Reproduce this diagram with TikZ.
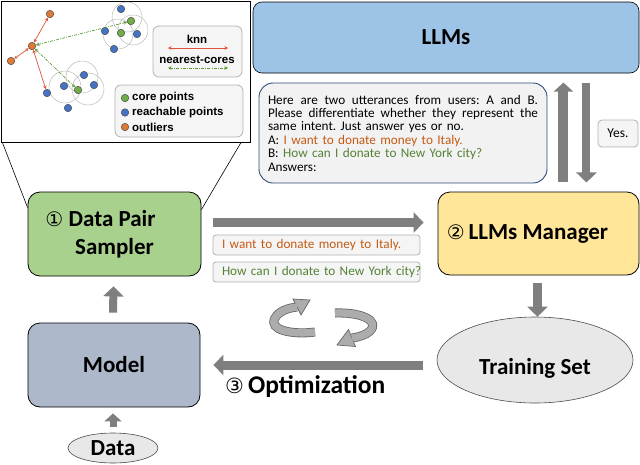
\documentclass[tikz,border=0pt]{standalone}
\usepackage{fontspec}
\setmainfont{Carlito}
\newfontfamily\dejavu{DejaVu Sans}
\newfontfamily\arialf{Liberation Sans}
\usetikzlibrary{arrows.meta,calc,shapes.geometric}
\definecolor{llmblue}{HTML}{9DC3E6}
\definecolor{smpgreen}{HTML}{A9D18E}
\definecolor{mgryellow}{HTML}{FFE699}
\definecolor{modelblue}{HTML}{ADB9CA}
\definecolor{arrowgray}{HTML}{7F7F7F}
\definecolor{promptblue}{HTML}{2E4A7A}
\definecolor{txtorange}{HTML}{C55A11}
\definecolor{txtgreen}{HTML}{548235}
\definecolor{dotorange}{HTML}{DD7A35}
\definecolor{dotblue}{HTML}{4472C4}
\definecolor{dotgreen}{HTML}{70AD47}
\definecolor{knnred}{HTML}{E0533A}
\definecolor{ncgreen}{HTML}{5E9C3A}
\newcommand{\cnum}[2]{{\dejavu\mdseries\fontsize{#2}{#2}\selectfont #1}}
\newcommand{\spreadline}[1]{\leavevmode\hbox to 270pt{\spaceskip=0.25em plus 1fil minus 0.08em\relax #1}}
\frenchspacing
\begin{document}
\begin{tikzpicture}[x=1pt,y=-1pt,
  box/.style={draw=black, line width=0.8pt, rounded corners=12pt, inner sep=0pt},
  bigtext/.style={font=\bfseries\fontsize{23}{28}\selectfont},
  bigarrow/.style={draw=arrowgray, line width=9pt, -{Triangle[length=10pt,width=20pt]}},
  smallarrow/.style={draw=arrowgray, line width=7pt, -{Triangle[length=8pt,width=17pt]}},
  softbox/.style={draw=gray!60, line width=0.8pt, fill=gray!8, inner sep=0pt},
  dot/.style={circle, draw=black!70, line width=0.5pt, minimum size=7.5pt, inner sep=0pt},
  zone/.style={draw=gray!55, line width=0.5pt},
  knnarrow/.style={draw=knnred, line width=0.7pt, {Stealth[length=3.5pt,width=3.5pt]}-{Stealth[length=3.5pt,width=3.5pt]}},
  ncarrow/.style={draw=ncgreen, line width=0.7pt, dash pattern=on 3pt off 1.2pt on 0.8pt off 1.2pt, {Stealth[length=3.5pt,width=3.5pt]}-{Stealth[length=3.5pt,width=3.5pt]}},
  lgtext/.style={font=\arialf\bfseries\fontsize{11.5}{12}\selectfont, inner sep=0pt},
  smalltext/.style={font=\fontsize{13.2}{14}\selectfont},
  ribbonout/.style={draw=black!60, line width=9pt},
  ribbonin/.style={draw=gray!65, line width=7.4pt},
  ribbonhead/.style={fill=gray!65, draw=black!60, line width=0.7pt}
]
\useasboundingbox (0,0) rectangle (640,464);

% ---------- inset ----------
\node[draw, line width=0.8pt, minimum width=249.5pt, minimum height=141.5pt, anchor=north west, inner sep=0pt] (inset) at (0.5,0.5) {};
% reachability circles
\draw[zone] (127,17) circle[radius=15];
\draw[zone] (133,30) circle[radius=15];
\draw[zone] (118,34) circle[radius=15];
\draw[zone] (65,87) circle[radius=16];
\draw[zone] (82,77) circle[radius=16];
\draw[zone] (88,89) circle[radius=16];
% points
\node[dot, fill=dotorange] (o1) at (32,46) {};
\node[dot, fill=dotorange] (o2) at (50,14) {};
\node[dot, fill=dotorange] (o3) at (11,61) {};
\node[dot, fill=dotblue] (b1) at (121,9) {};
\node[dot, fill=dotblue] (b2) at (105,31) {};
\node[dot, fill=dotblue] (b3) at (114,49) {};
\node[dot, fill=dotblue] (b4) at (137,34) {};
\node[dot, fill=dotgreen] (g1) at (131,21) {};
\node[dot, fill=dotgreen] (g2) at (121,33) {};
\node[dot, fill=dotblue] (b5) at (47,93) {};
\node[dot, fill=dotblue] (b6) at (64,86) {};
\node[dot, fill=dotblue] (b7) at (84,75) {};
\node[dot, fill=dotblue] (b8) at (94,85) {};
\node[dot, fill=dotblue] (b9) at (68,108) {};
\node[dot, fill=dotgreen] (g3) at (78,90) {};
\draw[knnarrow] (o1) -- (o2);
\draw[knnarrow] (o1) -- (o3);
\draw[knnarrow] (o1) -- (b5);
\draw[ncarrow] (o1) -- (g1);
\draw[ncarrow] (o1) -- (g3);
% legends
\node[softbox, rounded corners=6pt, minimum width=89pt, minimum height=51pt] (lg1) at (197.5,51.5) {};
\node[lgtext] (knn) at (197,39) {knn};
\coordinate (k1) at (168,48);
\coordinate (k2) at (228,48);
\draw[knnarrow] (k1) -- (k2);
\node[lgtext] (nct) at (197,60) {nearest-cores};
\coordinate (n1) at (168,68);
\coordinate (n2) at (228,68);
\draw[ncarrow] (n1) -- (n2);
\node[softbox, rounded corners=6pt, minimum width=128pt, minimum height=52pt] (lg2) at (179,111) {};
\node[dot, fill=dotgreen] (l1) at (125,98) {};
\node[dot, fill=dotblue] (l2) at (125,112.5) {};
\node[dot, fill=dotorange] (l3) at (125,127) {};
\node[lgtext, anchor=west] (l1t) at (132,98) {core points};
\node[lgtext, anchor=west] (l2t) at (132,112.5) {reachable points};
\node[lgtext, anchor=west] (l3t) at (132,127) {outliers};

% ---------- main boxes ----------
\node[box, fill=llmblue, rounded corners=9pt, line width=0.6pt, minimum width=386pt, minimum height=71pt, bigtext] (llms) at (446,37.5) {LLMs};

\node[draw=promptblue, line width=0.9pt, fill=gray!10, rounded corners=14pt, minimum height=100pt, text width=270pt, inner xsep=9pt, inner ysep=0pt, align=left, font=\fontsize{13.2}{13.4}\selectfont] (prompt) at (403,133)
{\spreadline{Here are two utterances from users: A and B.}\\
\spreadline{Please differentiate whether they represent the}\\
same intent. Just answer yes or no.\\
A: \textcolor{txtorange}{I want to donate money to Italy.}\\
B: \textcolor{txtgreen}{How can I donate to New York city?}\\
Answers:};

\node[softbox, rounded corners=4pt, minimum width=40pt, minimum height=27pt, font=\fontsize{13.5}{14}\selectfont] (yes) at (618,133.5) {Yes.};

\node[box, fill=smpgreen, minimum width=173pt, minimum height=84pt, align=center, font=\bfseries\fontsize{23}{28}\selectfont] (sampler) at (114.5,234) {\cnum{①}{20} Data Pair\hspace*{28pt}\\Sampler};

\node[box, fill=mgryellow, minimum width=201pt, minimum height=83pt, font=\bfseries\fontsize{23}{28}\selectfont] (manager) at (538.5,233.5) {\cnum{②}{20}\,LLMs Manager\hspace*{22pt}};

\node[box, fill=modelblue, minimum width=172pt, minimum height=84pt, bigtext] (model) at (114,365) {Model};

\node[ellipse, draw=black!70, line width=0.6pt, fill=gray!18, minimum width=196pt, minimum height=86pt, inner sep=0pt, bigtext] (training) at (535,360) {\raisebox{-14pt}[0pt][0pt]{Training Set}};

\node[ellipse, draw=black!70, line width=0.6pt, fill=gray!18, minimum width=90pt, minimum height=30pt, inner sep=0pt, bigtext] (data) at (113,448) {Data};

% sampled utterances
\node[softbox, rounded corners=3pt, minimum height=20pt, text width=189pt, inner xsep=9pt, align=left, smalltext, text=txtorange] (uttA) at (316.5,245) {I want to donate money to Italy.};
\node[softbox, rounded corners=3pt, minimum height=20pt, text width=189pt, inner xsep=9pt, align=left, smalltext, text=txtgreen] (uttB) at (316.5,272) {\leavevmode\hbox{How can I donate to New York city?}};

\node[anchor=west, inner sep=0pt, font=\bfseries\fontsize{25.5}{28}\selectfont] (opt) at (225,387) {\cnum{③}{21}\hspace{4pt}Optimization};

% ---------- connectors ----------
\draw[line width=0.6pt] ($(inset.south west)+(2,0)$) -- ($(sampler.north west)+(0,16)$);
\draw[line width=0.6pt] ($(inset.south east)+(-10,0)$) -- ($(sampler.north east)+(0,18)$);

\draw[bigarrow] ($(sampler.east)+(12,-11.5)$) -- ($(manager.west)+(-14,-11)$);
\draw[bigarrow] ($(training.west)+(-14,5)$) -- ($(model.east)+(13,0)$);
\draw[bigarrow] ($(manager.south)+(-1,8)$) -- ($(manager.south |- training.north)+(-1,0)$);
\draw[bigarrow, line width=8pt] ($(model.north)+(-1,-10)$) -- ($(sampler.south)+(-1,10)$);
\draw[smallarrow] ($(data.north)+(0,-6)$) -- ($(model.south)+(-1,6)$);
\draw[draw=arrowgray, line width=10pt, -{Triangle[length=9pt,width=19pt]}] ($(prompt.south east)+(16,-1)$) -- ($(prompt.north east)+(16,0)$);
\draw[draw=arrowgray, line width=8pt, -{Triangle[length=10pt,width=20pt]}] ($(prompt.north east)+(39,0)$) -- ($(prompt.south east)+(39,-1)$);

% ---------- cycle arrows ----------
\draw[ribbonout] (315,332) .. controls (292,335) and (268,330) .. (275,318) .. controls (279,311) and (288,308) .. (297,307);
\filldraw[ribbonhead] (310,300) -- (293,299) -- (301,315) -- cycle;
\draw[ribbonin] (315,332) .. controls (292,335) and (268,330) .. (275,318) .. controls (279,311) and (288,308) .. (297,307);

\draw[ribbonout] (335,313) .. controls (362,312) and (380,321) .. (370,331) .. controls (366,335) and (359,337) .. (352,338);
\filldraw[ribbonhead] (337,345) -- (348.5,329.5) -- (355.5,346.5) -- cycle;
\draw[ribbonin] (335,313) .. controls (362,312) and (380,321) .. (370,331) .. controls (366,335) and (359,337) .. (352,338);
\end{tikzpicture}
\end{document}
